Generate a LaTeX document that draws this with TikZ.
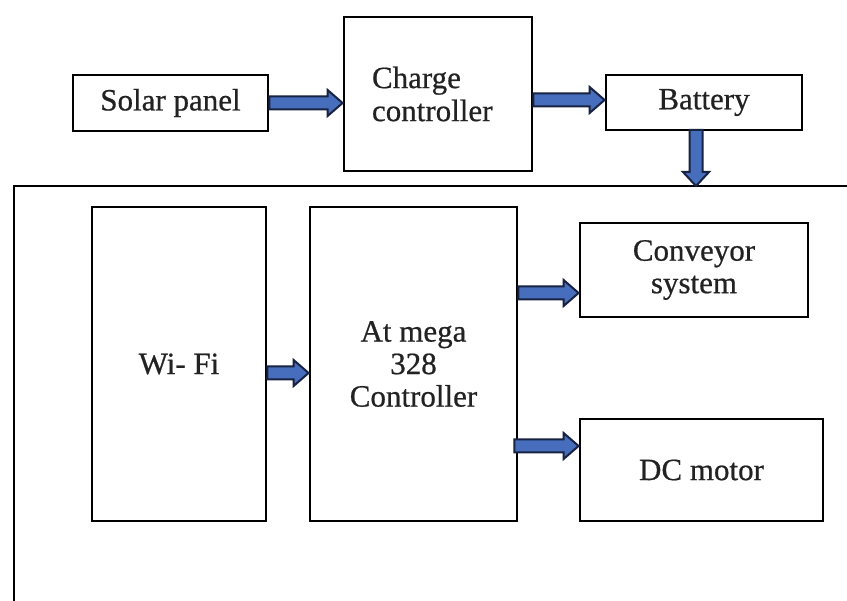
\documentclass[tikz,border=0pt]{standalone}
\usepackage{fontspec}
\setmainfont{Liberation Serif}
\usetikzlibrary{calc}
\definecolor{arrfill}{RGB}{70,110,188}
\definecolor{arrline}{RGB}{24,34,66}
\definecolor{txt}{RGB}{34,34,34}
\newcommand\harrow[2]{%
  \draw[fatarr] let \p1=(#1), \p2=(#2) in
    (\x1,\y1+6.5pt) -- (\x2-15pt,\y1+6.5pt) -- (\x2-15pt,\y1+13pt) -- (\x2,\y1)
    -- (\x2-15pt,\y1-13pt) -- (\x2-15pt,\y1-6.5pt) -- (\x1,\y1-6.5pt) -- cycle;}
\newcommand\varrow[2]{%
  \draw[fatarr] let \p1=(#1), \p2=(#2) in
    (\x1-6.5pt,\y1) -- (\x1-6.5pt,\y2+14pt) -- (\x1-13pt,\y2+14pt) -- (\x1,\y2)
    -- (\x1+13pt,\y2+14pt) -- (\x1+6.5pt,\y2+14pt) -- (\x1+6.5pt,\y1) -- cycle;}
\begin{document}
\begin{tikzpicture}[x=1pt,y=-1pt,
  box/.style={draw=black, line width=2.8pt, fill=white, inner sep=0pt,
    align=center, text=txt, font=\fontsize{31}{32.5}\selectfont\addfontfeatures{FakeBold=0.6}},
  fatarr/.style={fill=arrfill, draw=arrline, line width=2pt, line join=miter}]
\useasboundingbox (0,0) rectangle (847,601);
\fill[white] (0,0) rectangle (847,601);
% boxes
\node[box, minimum width=195pt, minimum height=56pt] (solar) at (170.5,103) {Solar panel};
\node[box, minimum width=188pt, minimum height=154pt, text width=132pt, align=left,
      font=\fontsize{31}{33}\selectfont\addfontfeatures{FakeBold=0.6}] (charge) at (438,94) {Charge\\controller};
\node[box, minimum width=196pt, minimum height=55pt] (battery) at (704,102.5) {Battery};
\node[box, minimum width=174pt, minimum height=314pt] (wifi) at (179,364) {Wi- Fi};
\node[box, minimum width=207pt, minimum height=314pt] (mcu) at (413.5,364) {At mega\\328\\Controller};
\node[box, minimum width=228pt, minimum height=94pt] (conv) at (694,270) {Conveyor\\system};
\node[box, minimum width=243pt, minimum height=102pt] (motor) at (701.5,470) {DC motor};
% open frame
\coordinate (frameTR) at (850,186);
\coordinate (frameBL) at (14,604);
\draw[line width=2.8pt] (frameTR) -| (frameBL);
% arrows
\coordinate (a1s) at (solar.east |- 0,103);
\harrow{a1s}{charge.west |- a1s}
\coordinate (a2s) at (charge.east |- 0,100);
\harrow{a2s}{battery.west |- a2s}
\coordinate (a3s) at (696,130);
\varrow{a3s}{a3s |- frameTR}
\coordinate (a4s) at (wifi.east |- 0,373);
\harrow{a4s}{mcu.west |- a4s}
\coordinate (a5s) at (mcu.east |- 0,293);
\harrow{a5s}{conv.west |- a5s}
\coordinate (a6s) at ($(mcu.east |- 0,446)+(-4,0)$);
\harrow{a6s}{motor.west |- a6s}
\end{tikzpicture}
\end{document}
